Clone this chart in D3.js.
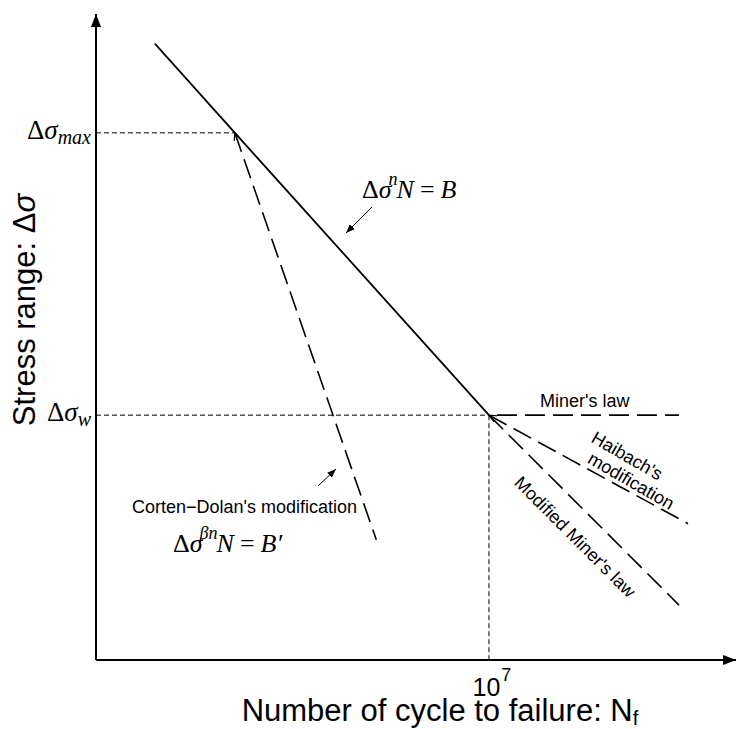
<!DOCTYPE html>
<html>
<head>
<meta charset="utf-8">
<script src="https://cdn.jsdelivr.net/npm/d3@7"></script>
<style>
body { margin: 0; background: #fff; }
svg { display: block; }
</style>
</head>
<body>
<script>
// schematic S-N curve, x ~ log N, y ~ log stress range (arbitrary units 0..10)
const basquinLine = [[0.92, 9.54], [2.17, 8.16], [6.14, 3.79]];
const cortenDolanLine = [[2.17, 8.16], [4.38, 1.86]];
const minerLine = [[6.14, 3.79], [9.11, 3.79]];
const haibachLine = [[6.14, 3.79], [9.25, 2.11]];
const modMinerLine = [[6.14, 3.79], [9.11, 0.85]];

const yTickValues = [8.16, 3.79];
const yTickSubs = ["max", "w"];
const xTickValues = [6.14];
const xTickExps = ["7"];

const W = 736, H = 729;
const serif = "'Liberation Serif', 'Times New Roman', serif";
const sans = "Arial, 'Liberation Sans', sans-serif";

const x = d3.scaleLinear().domain([0, 10]).range([96, 736]);
const y = d3.scaleLinear().domain([0, 10]).range([660, 14]);

const svg = d3.select("body").append("svg")
    .attr("width", W)
    .attr("height", H);

const defs = svg.append("defs");
defs.append("marker")
    .attr("id", "axisArrow")
    .attr("markerUnits", "userSpaceOnUse")
    .attr("markerWidth", 13).attr("markerHeight", 10)
    .attr("refX", 13).attr("refY", 5)
    .attr("orient", "auto")
    .append("path").attr("d", "M0,0L13,5L0,10Z").attr("fill", "#000");
defs.append("marker")
    .attr("id", "smallArrow")
    .attr("markerUnits", "userSpaceOnUse")
    .attr("markerWidth", 9).attr("markerHeight", 7)
    .attr("refX", 9).attr("refY", 3.5)
    .attr("orient", "auto")
    .append("path").attr("d", "M0,0L9,3.5L0,7Z").attr("fill", "#000");
defs.append("marker")
    .attr("id", "openArrow")
    .attr("markerUnits", "userSpaceOnUse")
    .attr("markerWidth", 10).attr("markerHeight", 8)
    .attr("refX", 8).attr("refY", 4)
    .attr("orient", "auto-start-reverse")
    .append("path").attr("d", "M0,0.5L8,4L0,7.5").attr("fill", "none")
    .attr("stroke", "#000").attr("stroke-width", 1.2);

const line = d3.line().x(d => x(d[0])).y(d => y(d[1]));

// dotted guides
const kneeX = [cortenDolanLine[0][0], minerLine[0][0]];
yTickValues.forEach((v, i) => {
    svg.append("line")
        .attr("x1", x(0)).attr("x2", x(kneeX[i]))
        .attr("y1", y(v)).attr("y2", y(v))
        .attr("stroke", "#000").attr("stroke-width", 1)
        .attr("stroke-dasharray", "5,3");
});
xTickValues.forEach(v => {
    svg.append("line")
        .attr("x1", x(v)).attr("x2", x(v))
        .attr("y1", y(minerLine[0][1])).attr("y2", y(0))
        .attr("stroke", "#000").attr("stroke-width", 1)
        .attr("stroke-dasharray", "5,3");
});

// axes
svg.append("line")
    .attr("x1", x(0)).attr("y1", y(0))
    .attr("x2", x(0)).attr("y2", y(10))
    .attr("stroke", "#000").attr("stroke-width", 2)
    .attr("marker-end", "url(#axisArrow)");
svg.append("line")
    .attr("x1", x(0)).attr("y1", y(0))
    .attr("x2", x(10)).attr("y2", y(0))
    .attr("stroke", "#000").attr("stroke-width", 2)
    .attr("marker-end", "url(#axisArrow)");

// curves
svg.append("path").datum(basquinLine)
    .attr("d", line).attr("fill", "none")
    .attr("stroke", "#000").attr("stroke-width", 1.8);

[cortenDolanLine, minerLine, haibachLine, modMinerLine].forEach((seg, i) => {
    svg.append("path").datum(seg)
        .attr("d", line).attr("fill", "none")
        .attr("stroke", "#000").attr("stroke-width", 1.6)
        .attr("stroke-dasharray", "20,8")
        .attr("stroke-dashoffset", i === 1 ? -8 : 0)
        .attr("marker-start", (i === 0 || i === 2) ? "url(#openArrow)" : null);
});

// y tick labels
yTickValues.forEach((v, i) => {
    const t = svg.append("text")
        .attr("x", x(0) - 5).attr("y", y(v) + 6)
        .attr("text-anchor", "end")
        .attr("font-family", serif).attr("font-size", 27);
    t.append("tspan").text("\u0394");
    t.append("tspan").attr("font-style", "italic").text("\u03c3");
    t.append("tspan").attr("font-style", "italic").attr("font-size", 20)
        .attr("dy", 5).text(yTickSubs[i]);
});

// x tick labels
xTickValues.forEach((v, i) => {
    const t = svg.append("text")
        .attr("x", x(v) + 3).attr("y", 696)
        .attr("text-anchor", "middle")
        .attr("font-family", sans).attr("font-size", 25);
    t.append("tspan").text("10");
    t.append("tspan").attr("font-size", 18).attr("dx", 1).attr("dy", -15).text(xTickExps[i]);
});

// axis titles
const yt = svg.append("text")
    .attr("transform", "translate(35,310) rotate(-90)")
    .attr("text-anchor", "middle")
    .attr("font-family", sans).attr("font-size", 31);
yt.append("tspan").text("Stress range: \u0394");
yt.append("tspan").attr("font-style", "italic").text("\u03c3");

const xt = svg.append("text")
    .attr("x", 440).attr("y", 721)
    .attr("text-anchor", "middle")
    .attr("font-family", sans).attr("font-size", 31);
xt.append("tspan").text("Number of cycle to failure: N");
xt.append("tspan").attr("font-size", 20).attr("dy", 4).text("f");

// formula labels
function formula(px, py, sup, rhs) {
    const t = svg.append("text")
        .attr("x", px).attr("y", py)
        .attr("font-family", serif).attr("font-size", 26);
    t.append("tspan").text("\u0394");
    t.append("tspan").attr("font-style", "italic").text("\u03c3");
    t.append("tspan").attr("font-style", "italic").attr("font-size", 18)
        .attr("dx", -3).attr("dy", -13).text(sup);
    t.append("tspan").attr("font-style", "italic").attr("dx", -1).attr("dy", 13).text("N");
    t.append("tspan").attr("dx", 6).text("=");
    t.append("tspan").attr("font-style", "italic").attr("dx", 6).text(rhs);
}
formula(362, 198, "n", "B");
formula(173, 552, "\u03b2n", "B\u2032");

// pointer arrows
svg.append("line")
    .attr("x1", 372).attr("y1", 207).attr("x2", 346).attr("y2", 233)
    .attr("stroke", "#000").attr("stroke-width", 1)
    .attr("marker-end", "url(#smallArrow)");
svg.append("line")
    .attr("x1", 318).attr("y1", 486).attr("x2", 336).attr("y2", 469)
    .attr("stroke", "#000").attr("stroke-width", 1)
    .attr("marker-end", "url(#smallArrow)");

// text labels
svg.append("text")
    .attr("x", 357).attr("y", 513)
    .attr("text-anchor", "end")
    .attr("font-family", sans).attr("font-size", 18)
    .text("Corten\u2212Dolan's modification");

svg.append("text")
    .attr("x", 540).attr("y", 407)
    .attr("font-family", sans).attr("font-size", 18)
    .text("Miner's law");

svg.append("text")
    .attr("transform", "translate(627,456) rotate(30)")
    .attr("text-anchor", "middle").attr("dominant-baseline", "central")
    .attr("font-family", sans).attr("font-size", 18)
    .text("Haibach's");
svg.append("text")
    .attr("transform", "translate(631,481) rotate(30)")
    .attr("text-anchor", "middle").attr("dominant-baseline", "central")
    .attr("font-family", sans).attr("font-size", 18)
    .text("modification");

svg.append("text")
    .attr("transform", "translate(575,537) rotate(45)")
    .attr("text-anchor", "middle").attr("dominant-baseline", "central")
    .attr("font-family", sans).attr("font-size", 18)
    .text("Modified Miner's law");
</script>
</body>
</html>
